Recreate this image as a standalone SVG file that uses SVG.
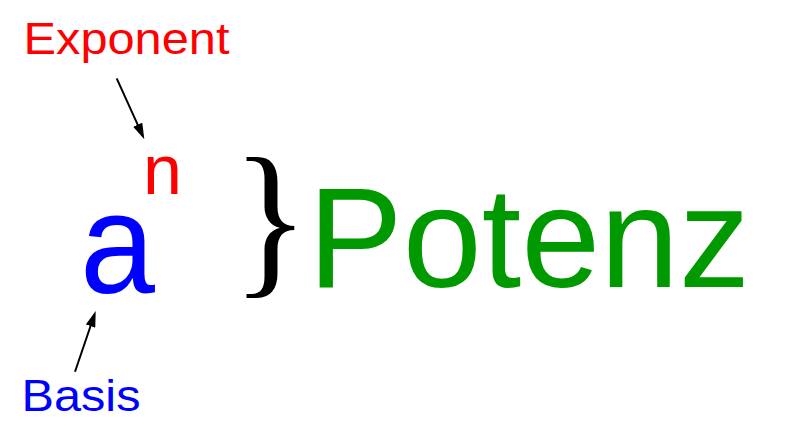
<svg xmlns="http://www.w3.org/2000/svg" width="800" height="444" viewBox="0 0 800 444">
<style>
.sans{font-family:"Liberation Sans",Arial,sans-serif;}
.red{fill:#ff0000;}
.blue{fill:#0000ff;}
.green{fill:#009900;}
.arrow{stroke:#000;stroke-width:2;fill:none;marker-end:url(#ah);}
</style>
<defs>
<marker id="ah" viewBox="0 0 16 10" refX="12" refY="5" markerWidth="16" markerHeight="10" markerUnits="userSpaceOnUse" orient="auto">
<path d="M0,0 L16,5 L0,10 Z" fill="#000"/>
</marker>
</defs>
<rect width="800" height="444" fill="#fff"/>
<g id="exponent-label"><text class="sans red" x="23.5" y="54.3" font-size="45" textLength="206" lengthAdjust="spacingAndGlyphs">Exponent</text></g>
<g id="basis-label"><text class="sans blue" x="21.5" y="411" font-size="45" textLength="119" lengthAdjust="spacingAndGlyphs">Basis</text></g>
<g id="base-a"><text class="sans blue" x="80" y="293" font-size="142" textLength="75" lengthAdjust="spacingAndGlyphs">a</text></g>
<g id="exponent-n"><text class="sans red" x="143" y="194" font-size="70">n</text></g>
<g id="brace"><text x="232" y="276" font-family="'Liberation Serif','Times New Roman',serif" font-size="160" fill="#000" transform="translate(0,226) scale(1,1.06) translate(0,-230)">}</text></g>
<g id="potenz"><text class="sans green" x="308" y="287" font-size="142">Potenz</text></g>
<g id="connectors">
<line class="arrow" x1="116.7" y1="78.3" x2="142.65" y2="135.65"/>
<line class="arrow" x1="75" y1="371.7" x2="94.4" y2="314.8"/>
</g>
</svg>
